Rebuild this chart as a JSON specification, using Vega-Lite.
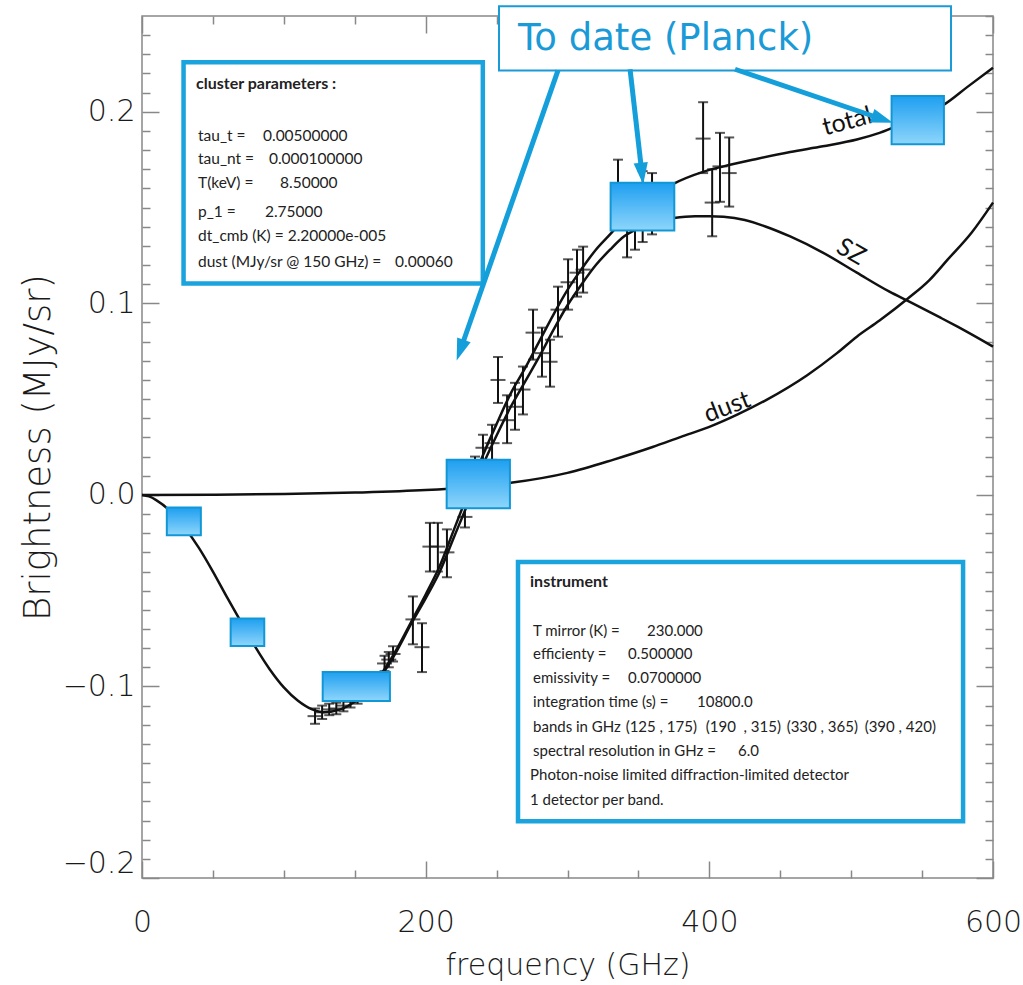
{
  "$schema": "https://vega.github.io/schema/vega-lite/v6.json",
  "width": 851,
  "height": 862,
  "autosize": {"type": "none"},
  "padding": {"left": 142, "top": 16, "right": 30, "bottom": 107},
  "background": "white",
  "config": {"view": {"stroke": "#888888", "strokeWidth": 1.5}},
  "resolve": {"axis": {"x": "independent", "y": "independent"}},
  "datasets": {
    "curves": [
      {"f": 0, "v": 0, "c": "SZ"}, {"f": 5, "v": -0.0008, "c": "SZ"}, {"f": 10, "v": -0.0027, "c": "SZ"}, {"f": 20, "v": -0.0085, "c": "SZ"}, {"f": 30, "v": -0.017, "c": "SZ"}, {"f": 40, "v": -0.0275, "c": "SZ"}, {"f": 50, "v": -0.04, "c": "SZ"}, {"f": 60, "v": -0.0535, "c": "SZ"}, {"f": 70, "v": -0.0665, "c": "SZ"}, {"f": 80, "v": -0.0795, "c": "SZ"}, {"f": 90, "v": -0.091, "c": "SZ"}, {"f": 100, "v": -0.1005, "c": "SZ"}, {"f": 110, "v": -0.1075, "c": "SZ"}, {"f": 120, "v": -0.112, "c": "SZ"}, {"f": 128, "v": -0.1135, "c": "SZ"}, {"f": 140, "v": -0.112, "c": "SZ"}, {"f": 150, "v": -0.108, "c": "SZ"}, {"f": 160, "v": -0.102, "c": "SZ"}, {"f": 170, "v": -0.093, "c": "SZ"}, {"f": 180, "v": -0.081, "c": "SZ"}, {"f": 190, "v": -0.067, "c": "SZ"}, {"f": 200, "v": -0.054, "c": "SZ"}, {"f": 210, "v": -0.04, "c": "SZ"}, {"f": 220, "v": -0.022, "c": "SZ"}, {"f": 230, "v": -0.004, "c": "SZ"}, {"f": 240, "v": 0.015, "c": "SZ"}, {"f": 250, "v": 0.031, "c": "SZ"}, {"f": 260, "v": 0.046, "c": "SZ"}, {"f": 270, "v": 0.059, "c": "SZ"}, {"f": 280, "v": 0.072, "c": "SZ"}, {"f": 290, "v": 0.086, "c": "SZ"}, {"f": 300, "v": 0.099, "c": "SZ"}, {"f": 310, "v": 0.11, "c": "SZ"}, {"f": 320, "v": 0.12, "c": "SZ"}, {"f": 330, "v": 0.128, "c": "SZ"}, {"f": 340, "v": 0.135, "c": "SZ"}, {"f": 350, "v": 0.139, "c": "SZ"}, {"f": 360, "v": 0.142, "c": "SZ"}, {"f": 375, "v": 0.1445, "c": "SZ"}, {"f": 390, "v": 0.1455, "c": "SZ"}, {"f": 400, "v": 0.1455, "c": "SZ"}, {"f": 410, "v": 0.1452, "c": "SZ"}, {"f": 425, "v": 0.1435, "c": "SZ"}, {"f": 440, "v": 0.14, "c": "SZ"}, {"f": 457, "v": 0.1349, "c": "SZ"}, {"f": 480, "v": 0.1265, "c": "SZ"}, {"f": 504, "v": 0.116, "c": "SZ"}, {"f": 527, "v": 0.1061, "c": "SZ"}, {"f": 541, "v": 0.1009, "c": "SZ"}, {"f": 563, "v": 0.0925, "c": "SZ"}, {"f": 575, "v": 0.0878, "c": "SZ"}, {"f": 600, "v": 0.0774, "c": "SZ"},
      {"f": 150, "v": -0.107, "c": "total"}, {"f": 160, "v": -0.101, "c": "total"}, {"f": 170, "v": -0.092, "c": "total"}, {"f": 180, "v": -0.08, "c": "total"}, {"f": 190, "v": -0.066, "c": "total"}, {"f": 200, "v": -0.052, "c": "total"}, {"f": 210, "v": -0.037, "c": "total"}, {"f": 220, "v": -0.018, "c": "total"}, {"f": 230, "v": 0.001, "c": "total"}, {"f": 240, "v": 0.02, "c": "total"}, {"f": 250, "v": 0.037, "c": "total"}, {"f": 260, "v": 0.053, "c": "total"}, {"f": 270, "v": 0.066, "c": "total"}, {"f": 280, "v": 0.08, "c": "total"}, {"f": 290, "v": 0.094, "c": "total"}, {"f": 300, "v": 0.107, "c": "total"}, {"f": 310, "v": 0.118, "c": "total"}, {"f": 320, "v": 0.128, "c": "total"}, {"f": 330, "v": 0.136, "c": "total"}, {"f": 340, "v": 0.144, "c": "total"}, {"f": 350, "v": 0.15, "c": "total"}, {"f": 360, "v": 0.156, "c": "total"}, {"f": 375, "v": 0.1625, "c": "total"}, {"f": 395, "v": 0.1685, "c": "total"}, {"f": 410, "v": 0.1715, "c": "total"}, {"f": 434, "v": 0.1755, "c": "total"}, {"f": 457, "v": 0.179, "c": "total"}, {"f": 480, "v": 0.182, "c": "total"}, {"f": 504, "v": 0.1855, "c": "total"}, {"f": 520, "v": 0.189, "c": "total"}, {"f": 540, "v": 0.195, "c": "total"}, {"f": 553, "v": 0.199, "c": "total"}, {"f": 566, "v": 0.204, "c": "total"}, {"f": 582, "v": 0.213, "c": "total"}, {"f": 600, "v": 0.223, "c": "total"},
      {"f": 0, "v": 0, "c": "dust"}, {"f": 50, "v": 0.0001, "c": "dust"}, {"f": 100, "v": 0.0005, "c": "dust"}, {"f": 150, "v": 0.0012, "c": "dust"}, {"f": 200, "v": 0.0025, "c": "dust"}, {"f": 230, "v": 0.004, "c": "dust"}, {"f": 260, "v": 0.0063, "c": "dust"}, {"f": 300, "v": 0.0115, "c": "dust"}, {"f": 332, "v": 0.0183, "c": "dust"}, {"f": 360, "v": 0.025, "c": "dust"}, {"f": 380, "v": 0.0303, "c": "dust"}, {"f": 400, "v": 0.0355, "c": "dust"}, {"f": 420, "v": 0.042, "c": "dust"}, {"f": 440, "v": 0.0495, "c": "dust"}, {"f": 469, "v": 0.0625, "c": "dust"}, {"f": 490, "v": 0.074, "c": "dust"}, {"f": 504, "v": 0.0826, "c": "dust"}, {"f": 520, "v": 0.091, "c": "dust"}, {"f": 540, "v": 0.1025, "c": "dust"}, {"f": 555, "v": 0.112, "c": "dust"}, {"f": 568, "v": 0.1228, "c": "dust"}, {"f": 585, "v": 0.137, "c": "dust"}, {"f": 600, "v": 0.1526, "c": "dust"}
    ],
    "bars": [
      {"f": 122, "v": -0.1155, "lo": -0.1195, "hi": -0.1115}, {"f": 127, "v": -0.1135, "lo": -0.117, "hi": -0.11}, {"f": 132, "v": -0.112, "lo": -0.115, "hi": -0.109}, {"f": 137, "v": -0.1115, "lo": -0.1145, "hi": -0.1085}, {"f": 142, "v": -0.11, "lo": -0.113, "hi": -0.107}, {"f": 147, "v": -0.108, "lo": -0.111, "hi": -0.105}, {"f": 152, "v": -0.106, "lo": -0.109, "hi": -0.103},
      {"f": 171, "v": -0.088, "lo": -0.092, "hi": -0.084}, {"f": 174, "v": -0.086, "lo": -0.09, "hi": -0.082}, {"f": 177, "v": -0.083, "lo": -0.087, "hi": -0.079},
      {"f": 191, "v": -0.065, "lo": -0.078, "hi": -0.053}, {"f": 197.4, "v": -0.0795, "lo": -0.0925, "hi": -0.067}, {"f": 203, "v": -0.027, "lo": -0.04, "hi": -0.0146}, {"f": 208.6, "v": -0.027, "lo": -0.04, "hi": -0.0146}, {"f": 215, "v": -0.03, "lo": -0.043, "hi": -0.018}, {"f": 227.7, "v": -0.0115, "lo": -0.017, "hi": -0.006}, {"f": 234.8, "v": 0.013, "lo": 0.006, "hi": 0.02}, {"f": 240.4, "v": 0.0246, "lo": 0.0167, "hi": 0.0314}, {"f": 246.8, "v": 0.027, "lo": 0.0183, "hi": 0.0366},
      {"f": 251, "v": 0.06, "lo": 0.048, "hi": 0.072}, {"f": 257.4, "v": 0.039, "lo": 0.027, "hi": 0.052}, {"f": 263, "v": 0.046, "lo": 0.034, "hi": 0.0585}, {"f": 268.6, "v": 0.055, "lo": 0.042, "hi": 0.067}, {"f": 275.7, "v": 0.0847, "lo": 0.0706, "hi": 0.0967}, {"f": 282, "v": 0.074, "lo": 0.0617, "hi": 0.0873}, {"f": 287.7, "v": 0.0695, "lo": 0.0565, "hi": 0.081}, {"f": 293.3, "v": 0.0967, "lo": 0.0826, "hi": 0.1087}, {"f": 300.4, "v": 0.111, "lo": 0.0967, "hi": 0.123}, {"f": 306.7, "v": 0.116, "lo": 0.1035, "hi": 0.128}, {"f": 311, "v": 0.1176, "lo": 0.1056, "hi": 0.1296},
      {"f": 335.6, "v": 0.157, "lo": 0.14, "hi": 0.175}, {"f": 342, "v": 0.14, "lo": 0.124, "hi": 0.157}, {"f": 347.6, "v": 0.144, "lo": 0.128, "hi": 0.161}, {"f": 353, "v": 0.15, "lo": 0.132, "hi": 0.169}, {"f": 359.6, "v": 0.152, "lo": 0.136, "hi": 0.168},
      {"f": 395.6, "v": 0.186, "lo": 0.168, "hi": 0.205}, {"f": 402, "v": 0.1526, "lo": 0.135, "hi": 0.17}, {"f": 407.5, "v": 0.1715, "lo": 0.153, "hi": 0.189}, {"f": 414, "v": 0.168, "lo": 0.1505, "hi": 0.1866}
    ],
    "panels": [
      {"x": 29.3, "x2": 240.3, "y": 0.2258, "y2": 0.1103},
      {"x": 265.1, "x2": 578.9, "y": -0.035, "y2": -0.1704}
    ],
    "headers": [
      {"x": 38.1, "y": 0.2143, "t": "cluster parameters :"},
      {"x": 273.6, "y": -0.0455, "t": "instrument"}
    ],
    "clusterText": [
      {"x": 39.5, "y": 0.1871, "t": "tau_t ="}, {"x": 85.3, "y": 0.1871, "t": "0.00500000"},
      {"x": 39.5, "y": 0.1751, "t": "tau_nt ="}, {"x": 89.5, "y": 0.1751, "t": "0.000100000"},
      {"x": 39.5, "y": 0.1626, "t": "T(keV) ="}, {"x": 97.3, "y": 0.1626, "t": "8.50000"},
      {"x": 39.5, "y": 0.1479, "t": "p_1 ="}, {"x": 86.7, "y": 0.1479, "t": "2.75000"},
      {"x": 39.5, "y": 0.1349, "t": "dt_cmb (K) = 2.20000e-005"},
      {"x": 39.5, "y": 0.1218, "t": "dust (MJy/sr @ 150 GHz) ="}, {"x": 178.4, "y": 0.1218, "t": "0.00060"}
    ],
    "instrumentText": [
      {"x": 275.7, "y": -0.0711, "t": "T mirror (K) ="}, {"x": 356.1, "y": -0.0711, "t": "230.000"},
      {"x": 275.7, "y": -0.0831, "t": "efficienty ="}, {"x": 342.7, "y": -0.0831, "t": "0.500000"},
      {"x": 275.7, "y": -0.0957, "t": "emissivity ="}, {"x": 342.7, "y": -0.0957, "t": "0.0700000"},
      {"x": 275.7, "y": -0.1082, "t": "integration time (s) ="}, {"x": 391.3, "y": -0.1082, "t": "10800.0"},
      {"x": 275.7, "y": -0.1213, "t": "bands in GHz"}, {"x": 341.0, "y": -0.1213, "t": "(125 , 175)"}, {"x": 397.5, "y": -0.1213, "t": "(190\u00a0 , 315)"}, {"x": 454.5, "y": -0.1213, "t": "(330 , 365)"}, {"x": 509.5, "y": -0.1213, "t": "(390 , 420)"},
      {"x": 275.7, "y": -0.1338, "t": "spectral resolution in GHz ="}, {"x": 420.2, "y": -0.1338, "t": "6.0"},
      {"x": 273.6, "y": -0.1464, "t": "Photon-noise limited diffraction-limited detector"},
      {"x": 273.6, "y": -0.1594, "t": "1 detector per band."}
    ],
    "callout": [
      {"x": 251.7, "x2": 570.4, "y": 0.2551, "y2": 0.2216, "t": "To date (Planck)", "tx": 265.1, "ty": 0.2378}
    ],
    "boxes": [
      {"x": 17.5, "x2": 41.5, "y": -0.0066, "y2": -0.0211},
      {"x": 62.5, "x2": 86.2, "y": -0.0645, "y2": -0.0789},
      {"x": 127.4, "x2": 174.8, "y": -0.0924, "y2": -0.1076},
      {"x": 214.8, "x2": 259.4, "y": 0.0183, "y2": -0.007},
      {"x": 330.4, "x2": 375.3, "y": 0.1629, "y2": 0.138},
      {"x": 528.5, "x2": 565.4, "y": 0.2082, "y2": 0.183}
    ],
    "arrows": [
      {"x": 293.3, "y": 0.2216, "x2": 224.4, "y2": 0.0755, "a": 199.3},
      {"x": 344.1, "y": 0.2222, "x2": 352.5, "y2": 0.1677, "a": 173.5},
      {"x": 418.1, "y": 0.2222, "x2": 522.1, "y2": 0.1961, "a": 108.7}
    ],
    "curveLabels": [
      {"x": 497.1, "y": 0.195, "t": "total", "a": -15},
      {"x": 499.9, "y": 0.127, "t": "SZ", "a": 30},
      {"x": 412.5, "y": 0.046, "t": "dust", "a": -21}
    ]
  },
  "layer": [
    {
      "data": {"name": "curves"},
      "mark": {"type": "line", "color": "#111111", "strokeWidth": 2.5, "interpolate": "monotone"},
      "encoding": {
        "x": {"field": "f", "type": "quantitative", "scale": {"domain": [0, 600], "nice": false, "zero": false},
          "axis": {"orient": "bottom", "values": [0, 200, 400, 600], "tickSize": -17, "tickColor": "#888888", "tickWidth": 1.5, "domain": false, "grid": false,
            "labelFont": "DejaVu Sans", "labelFontWeight": 200, "labelFontSize": 30, "labelColor": "#1a1a1a", "labelPadding": 46, "labelFlush": false, "labelOverlap": false, "labelBound": false,
            "title": "frequency (GHz)", "titleFont": "DejaVu Sans", "titleFontWeight": 200, "titleFontSize": 30, "titleColor": "#1a1a1a", "titleX": 425.5, "titleY": 87, "titleAlign": "center", "titleBaseline": "middle", "titleAngle": 0}},
        "y": {"field": "v", "type": "quantitative", "scale": {"domain": [-0.2, 0.25], "nice": false, "zero": false},
          "axis": {"orient": "left", "values": [-0.2, -0.1, 0, 0.1, 0.2], "format": ".1f", "tickSize": -17, "tickColor": "#888888", "tickWidth": 1.5, "domain": false, "grid": false,
            "labelFont": "DejaVu Sans", "labelFontWeight": 200, "labelFontSize": 30, "labelColor": "#1a1a1a", "labelPadding": 24, "labelFlush": true, "labelOverlap": false, "labelBound": false,
            "title": "Brightness (MJy/sr)", "titleFont": "DejaVu Sans", "titleFontWeight": 200, "titleFontSize": 37, "titleColor": "#1a1a1a", "titleX": -104, "titleY": 431, "titleAlign": "center", "titleBaseline": "middle", "titleAngle": 270}},
        "detail": {"field": "c", "type": "nominal"}
      }
    },
    {
      "data": {"name": "bars"},
      "mark": {"type": "rule", "color": "#111111", "strokeWidth": 2},
      "encoding": {
        "x": {"field": "f", "type": "quantitative", "scale": {"domain": [0, 600], "nice": false, "zero": false},
          "axis": {"orient": "top", "values": [0, 50, 100, 150, 200, 250, 300, 350, 400, 450, 500, 550, 600], "labels": false, "domain": false, "grid": false, "title": null, "tickColor": "#888888", "tickWidth": 1.5,
            "tickSize": {"condition": {"test": "datum.value % 200 === 0", "value": -17}, "value": -8}}},
        "y": {"field": "lo", "type": "quantitative", "scale": {"domain": [-0.2, 0.25], "nice": false, "zero": false},
          "axis": {"orient": "right", "values": [-0.2, -0.19, -0.18, -0.17, -0.16, -0.15, -0.14, -0.13, -0.12, -0.11, -0.1, -0.09, -0.08, -0.07, -0.06, -0.05, -0.04, -0.03, -0.02, -0.01, 0, 0.01, 0.02, 0.03, 0.04, 0.05, 0.06, 0.07, 0.08, 0.09, 0.1, 0.11, 0.12, 0.13, 0.14, 0.15, 0.16, 0.17, 0.18, 0.19, 0.2, 0.21, 0.22, 0.23, 0.24, 0.25], "labels": false, "domain": false, "grid": false, "title": null, "tickColor": "#888888", "tickWidth": 1.5,
            "tickSize": {"condition": {"test": "abs(datum.value * 10 - round(datum.value * 10)) < 0.001", "value": -17}, "value": -8}}},
        "y2": {"field": "hi"}
      }
    },
    {
      "data": {"name": "bars"},
      "mark": {"type": "tick", "orient": "horizontal", "color": "#111111", "size": 10, "thickness": 2},
      "encoding": {
        "x": {"field": "f", "type": "quantitative", "scale": {"domain": [0, 600], "nice": false, "zero": false},
          "axis": {"orient": "bottom", "values": [50, 100, 150, 250, 300, 350, 450, 500, 550], "labels": false, "domain": false, "grid": false, "title": null, "tickColor": "#888888", "tickWidth": 1.5, "tickSize": -8}},
        "y": {"field": "lo", "type": "quantitative", "scale": {"domain": [-0.2, 0.25], "nice": false, "zero": false},
          "axis": {"orient": "left", "values": [-0.19, -0.18, -0.17, -0.16, -0.15, -0.14, -0.13, -0.12, -0.11, -0.09, -0.08, -0.07, -0.06, -0.05, -0.04, -0.03, -0.02, -0.01, 0.01, 0.02, 0.03, 0.04, 0.05, 0.06, 0.07, 0.08, 0.09, 0.11, 0.12, 0.13, 0.14, 0.15, 0.16, 0.17, 0.18, 0.19, 0.21, 0.22, 0.23, 0.24], "labels": false, "domain": false, "grid": false, "title": null, "tickColor": "#888888", "tickWidth": 1.5, "tickSize": -8}}
      }
    },
    {
      "data": {"name": "bars"},
      "mark": {"type": "tick", "orient": "horizontal", "color": "#111111", "size": 10, "thickness": 2},
      "encoding": {
        "x": {"field": "f", "type": "quantitative", "scale": {"domain": [0, 600], "nice": false, "zero": false}, "axis": null},
        "y": {"field": "hi", "type": "quantitative", "scale": {"domain": [-0.2, 0.25], "nice": false, "zero": false}, "axis": null}
      }
    },
    {
      "data": {"name": "bars"},
      "mark": {"type": "tick", "orient": "horizontal", "color": "#111111", "size": 15, "thickness": 2},
      "encoding": {
        "x": {"field": "f", "type": "quantitative", "scale": {"domain": [0, 600], "nice": false, "zero": false}, "axis": null},
        "y": {"field": "v", "type": "quantitative", "scale": {"domain": [-0.2, 0.25], "nice": false, "zero": false}, "axis": null}
      }
    },
    {
      "data": {"name": "panels"},
      "mark": {"type": "rect", "fill": "white", "stroke": "#1aa3dc", "strokeWidth": 4.5},
      "encoding": {
        "x": {"field": "x", "type": "quantitative", "scale": {"domain": [0, 600], "nice": false, "zero": false}, "axis": null},
        "x2": {"field": "x2"},
        "y": {"field": "y", "type": "quantitative", "scale": {"domain": [-0.2, 0.25], "nice": false, "zero": false}, "axis": null},
        "y2": {"field": "y2"}
      }
    },
    {
      "data": {"name": "headers"},
      "mark": {"type": "text", "align": "left", "baseline": "middle", "font": "Lato", "fontSize": 16, "fontWeight": "bold", "color": "#222222"},
      "encoding": {
        "x": {"field": "x", "type": "quantitative", "scale": {"domain": [0, 600], "nice": false, "zero": false}, "axis": null},
        "y": {"field": "y", "type": "quantitative", "scale": {"domain": [-0.2, 0.25], "nice": false, "zero": false}, "axis": null},
        "text": {"field": "t"}
      }
    },
    {
      "data": {"name": "clusterText"},
      "mark": {"type": "text", "align": "left", "baseline": "middle", "font": "Lato", "fontSize": 15.5, "color": "#222222"},
      "encoding": {
        "x": {"field": "x", "type": "quantitative", "scale": {"domain": [0, 600], "nice": false, "zero": false}, "axis": null},
        "y": {"field": "y", "type": "quantitative", "scale": {"domain": [-0.2, 0.25], "nice": false, "zero": false}, "axis": null},
        "text": {"field": "t"}
      }
    },
    {
      "data": {"name": "instrumentText"},
      "mark": {"type": "text", "align": "left", "baseline": "middle", "font": "Lato", "fontSize": 15, "color": "#222222"},
      "encoding": {
        "x": {"field": "x", "type": "quantitative", "scale": {"domain": [0, 600], "nice": false, "zero": false}, "axis": null},
        "y": {"field": "y", "type": "quantitative", "scale": {"domain": [-0.2, 0.25], "nice": false, "zero": false}, "axis": null},
        "text": {"field": "t"}
      }
    },
    {
      "data": {"name": "curveLabels"},
      "mark": {"type": "text", "align": "center", "baseline": "middle", "font": "Lato", "fontSize": 25, "color": "#111111"},
      "encoding": {
        "x": {"field": "x", "type": "quantitative", "scale": {"domain": [0, 600], "nice": false, "zero": false}, "axis": null},
        "y": {"field": "y", "type": "quantitative", "scale": {"domain": [-0.2, 0.25], "nice": false, "zero": false}, "axis": null},
        "text": {"field": "t"},
        "angle": {"field": "a", "type": "quantitative", "scale": null}
      }
    },
    {
      "data": {"name": "boxes"},
      "mark": {"type": "rect", "stroke": "#1297d6", "strokeWidth": 2,
        "fill": {"gradient": "linear", "x1": 0, "y1": 0, "x2": 0, "y2": 1, "stops": [{"offset": 0, "color": "#1e9ff0"}, {"offset": 1, "color": "#8ed6fb"}]}},
      "encoding": {
        "x": {"field": "x", "type": "quantitative", "scale": {"domain": [0, 600], "nice": false, "zero": false}, "axis": null},
        "x2": {"field": "x2"},
        "y": {"field": "y", "type": "quantitative", "scale": {"domain": [-0.2, 0.25], "nice": false, "zero": false}, "axis": null},
        "y2": {"field": "y2"}
      }
    },
    {
      "data": {"name": "callout"},
      "mark": {"type": "rect", "fill": "white", "stroke": "#1a9ad6", "strokeWidth": 2},
      "encoding": {
        "x": {"field": "x", "type": "quantitative", "scale": {"domain": [0, 600], "nice": false, "zero": false}, "axis": null},
        "x2": {"field": "x2"},
        "y": {"field": "y", "type": "quantitative", "scale": {"domain": [-0.2, 0.25], "nice": false, "zero": false}, "axis": null},
        "y2": {"field": "y2"}
      }
    },
    {
      "data": {"name": "callout"},
      "mark": {"type": "text", "align": "left", "baseline": "middle", "font": "DejaVu Sans", "fontSize": 37, "color": "#1a9ad6"},
      "encoding": {
        "x": {"field": "tx", "type": "quantitative", "scale": {"domain": [0, 600], "nice": false, "zero": false}, "axis": null},
        "y": {"field": "ty", "type": "quantitative", "scale": {"domain": [-0.2, 0.25], "nice": false, "zero": false}, "axis": null},
        "text": {"field": "t"}
      }
    },
    {
      "data": {"name": "arrows"},
      "mark": {"type": "rule", "color": "#149fdb", "strokeWidth": 5},
      "encoding": {
        "x": {"field": "x", "type": "quantitative", "scale": {"domain": [0, 600], "nice": false, "zero": false}, "axis": null},
        "x2": {"field": "x2"},
        "y": {"field": "y", "type": "quantitative", "scale": {"domain": [-0.2, 0.25], "nice": false, "zero": false}, "axis": null},
        "y2": {"field": "y2"}
      }
    },
    {
      "data": {"name": "arrows"},
      "mark": {"type": "point", "shape": "M0,-1L-0.65,1L0.65,1Z", "filled": true, "size": 480, "color": "#149fdb", "opacity": 1},
      "encoding": {
        "x": {"field": "x2", "type": "quantitative", "scale": {"domain": [0, 600], "nice": false, "zero": false}, "axis": null},
        "y": {"field": "y2", "type": "quantitative", "scale": {"domain": [-0.2, 0.25], "nice": false, "zero": false}, "axis": null},
        "angle": {"field": "a", "type": "quantitative", "scale": null}
      }
    }
  ]
}
